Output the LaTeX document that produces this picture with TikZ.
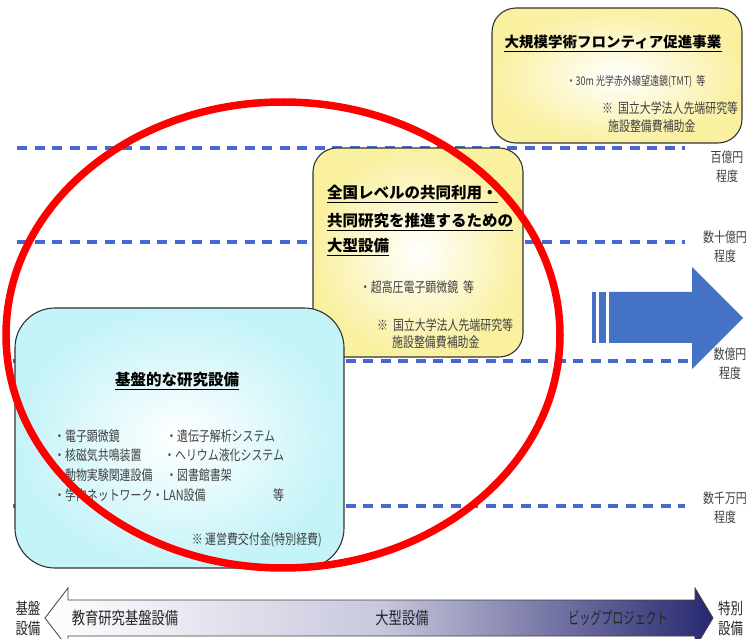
\documentclass[tikz,border=0pt]{standalone}
\usepackage{fontspec}
\setmainfont{Noto Sans CJK JP}
\newfontfamily\bodyf[FakeStretch=0.78]{Noto Sans CJK JP}
\newfontfamily\smallf[FakeStretch=0.75]{Noto Sans CJK JP}
\newfontfamily\titlef{Noto Sans CJK JP}
\newfontfamily\arrf[FakeStretch=0.78]{Noto Sans CJK JP}
\newfontfamily\arrk[FakeStretch=0.65]{Noto Sans CJK JP}
\definecolor{dashblue}{RGB}{72,104,208}
\definecolor{boxyellow}{RGB}{249,240,160}
\definecolor{boxcyan}{RGB}{196,243,248}
\definecolor{arrblue}{RGB}{68,114,196}
\definecolor{navy}{RGB}{40,40,112}
\definecolor{midlav}{RGB}{200,200,222}
\definecolor{txtgray}{RGB}{64,64,64}
\begin{document}
\begin{tikzpicture}[x=1pt,y=-1pt,
  dline/.style={draw=dashblue, line width=3.5pt, dash pattern=on 10pt off 7.5pt},
  ybox/.style={draw=black!80, line width=1.1pt, inner color=white, outer color=boxyellow, rounded corners=24pt, inner sep=0pt},
  cbox/.style={draw=black!80, line width=1.1pt, inner color=white, outer color=boxcyan, rounded corners=40pt, inner sep=0pt},
  txt/.style={inner sep=0pt, text=txtgray, font=\bodyf\fontsize{14}{16}\selectfont},
  rtxt/.style={inner sep=0pt, text=txtgray, align=center, font=\bodyf\fontsize{14}{19}\selectfont},
  ttl/.style={inner sep=0pt, text=black, font=\titlef\bfseries\fontsize{15.5}{17}\selectfont},
  ul/.style={draw=black, line width=1.1pt},
  arrtxt/.style={inner sep=0pt, text=black!85, font=\arrf\fontsize{17}{19}\selectfont},
  endtxt/.style={inner sep=0pt, text=black!85, align=center, font=\bodyf\fontsize{16}{20}\selectfont},
  redring/.style={draw=red, line width=7.5pt}]
\useasboundingbox (0,0) rectangle (748,639);
\fill[white] (0,0) rectangle (748,639);

% dashed level lines
\coordinate (d1a) at (17,148); \coordinate (d1b) at (685,148);
\coordinate (d2a) at (17,242); \coordinate (d2b) at (685,242);
\coordinate (d3a) at (13,361); \coordinate (d3b) at (690,361);
\coordinate (d4a) at (13,506); \coordinate (d4b) at (685,506);
\draw[dline] (d1a) -- (d1b);
\draw[dline] (d2a) -- (d2b);
\draw[dline] (d3a) -- (d3b);
\draw[dline] (d4a) -- (d4b);

% right labels
\node[rtxt] (r1) at (727,167) {百億円\\程度};
\node[rtxt] (r2) at (725,246.5) {数十億円\\程度};
\node[rtxt] (r3) at (730,364) {数億円\\程度};
\node[rtxt] (r4) at (725,508) {数千万円\\程度};

% top box
\node[ybox, minimum width=250pt, minimum height=135pt] (topbox) at (617,75.5) {};
\node[ttl, font=\titlef\bfseries\fontsize{14.5}{16}\selectfont] (t1) at (613,42) {大規模学術フロンティア促進事業};
\draw[ul] ([yshift=-2pt]t1.south west) -- ([yshift=-2pt]t1.south east);
\node[txt, font=\smallf\fontsize{12}{14}\selectfont] (t2) at (636,82) {・30m 光学赤外線望遠鏡(TMT)\ \ 等};
\node[txt, anchor=west] (t3) at (602,108) {※\ \ 国立大学法人先端研究等};
\node[txt, anchor=west] (t4) at (608,126) {施設整備費補助金};

% middle box
\node[ybox, minimum width=210pt, minimum height=209pt] (midbox) at (418,252.5) {};
\node[ttl, anchor=west] (m1) at (327,193) {全国レベルの共同利用・};
\draw[ul] ([yshift=-2pt]m1.south west) -- ([yshift=-2pt]m1.south east);
\node[ttl, anchor=west] (m2) at (327,221) {共同研究を推進するための};
\draw[ul] ([yshift=-2pt]m2.south west) -- ([yshift=-2pt]m2.south east);
\node[ttl, anchor=west] (m3) at (327,246) {大型設備};
\draw[ul] ([yshift=-2pt]m3.south west) -- ([yshift=-2pt]m3.south east);
\node[txt] (m4) at (417,287) {・超高圧電子顕微鏡\ \ 等};
\node[txt, anchor=west] (m5) at (377,325) {※\ \ 国立大学法人先端研究等};
\node[txt, anchor=west] (m6) at (392,342) {施設整備費補助金};

% cyan box
\node[cbox, minimum width=329pt, minimum height=260pt] (cyanbox) at (179.5,438) {};
\node[ttl] (c1) at (177,380) {基盤的な研究設備};
\draw[ul] ([yshift=-2pt]c1.south west) -- ([yshift=-2pt]c1.south east);
\node[txt, anchor=west] (c2) at (54,436) {・電子顕微鏡};
\node[txt, anchor=west] (c3) at (166,436) {・遺伝子解析システム};
\node[txt, anchor=west] (c4) at (54,455) {・核磁気共鳴装置};
\node[txt, anchor=west] (c5) at (164,455) {・ヘリウム液化システム};
\node[txt, anchor=west] (c6) at (54,475) {・動物実験関連設備};
\node[txt, anchor=west] (c7) at (166,475) {・図書館書架};
\node[txt, anchor=west] (c8) at (54,495) {・学内ネットワーク・LAN設備};
\node[txt, anchor=west] (c9) at (273,495) {等};
\node[txt, anchor=east] (c10) at (322,540) {※ 運営費交付金(特別経費)};

% big blue arrow
\fill[arrblue] (592,292) rectangle (595.5,343);
\fill[arrblue] (598.5,292) rectangle (605.5,343);
\fill[arrblue] (609,292) -- (692,292) -- (692,267) -- (743,318) -- (692,369) -- (692,343) -- (609,343) -- cycle;

% bottom scale arrow
\shade[left color=white, right color=navy, middle color=midlav]
  (45,618) -- (68,588) -- (68,600) -- (695,600) -- (695,588) -- (713,618) -- (695,648) -- (695,636) -- (68,636) -- (68,648) -- cycle;
\draw[black!75, line width=0.8pt]
  (45,618) -- (68,588) -- (68,600) -- (695,600) -- (695,588) -- (713,618) -- (695,648) -- (695,636) -- (68,636) -- (68,648) -- cycle;
\node[arrtxt] (b1) at (125,618) {教育研究基盤設備};
\node[arrtxt] (b2) at (402,618) {大型設備};
\node[arrtxt, font=\arrk\fontsize{17}{19}\selectfont] (b3) at (618,618) {ビッグプロジェクト};
\node[endtxt] (e1) at (28,618) {基盤\\設備};
\node[endtxt, anchor=west] (e2) at (718,618) {特別\\設備};

% red ellipse
\draw[redring] (283,335) ellipse [x radius=277pt, y radius=233pt];
\end{tikzpicture}
\end{document}
